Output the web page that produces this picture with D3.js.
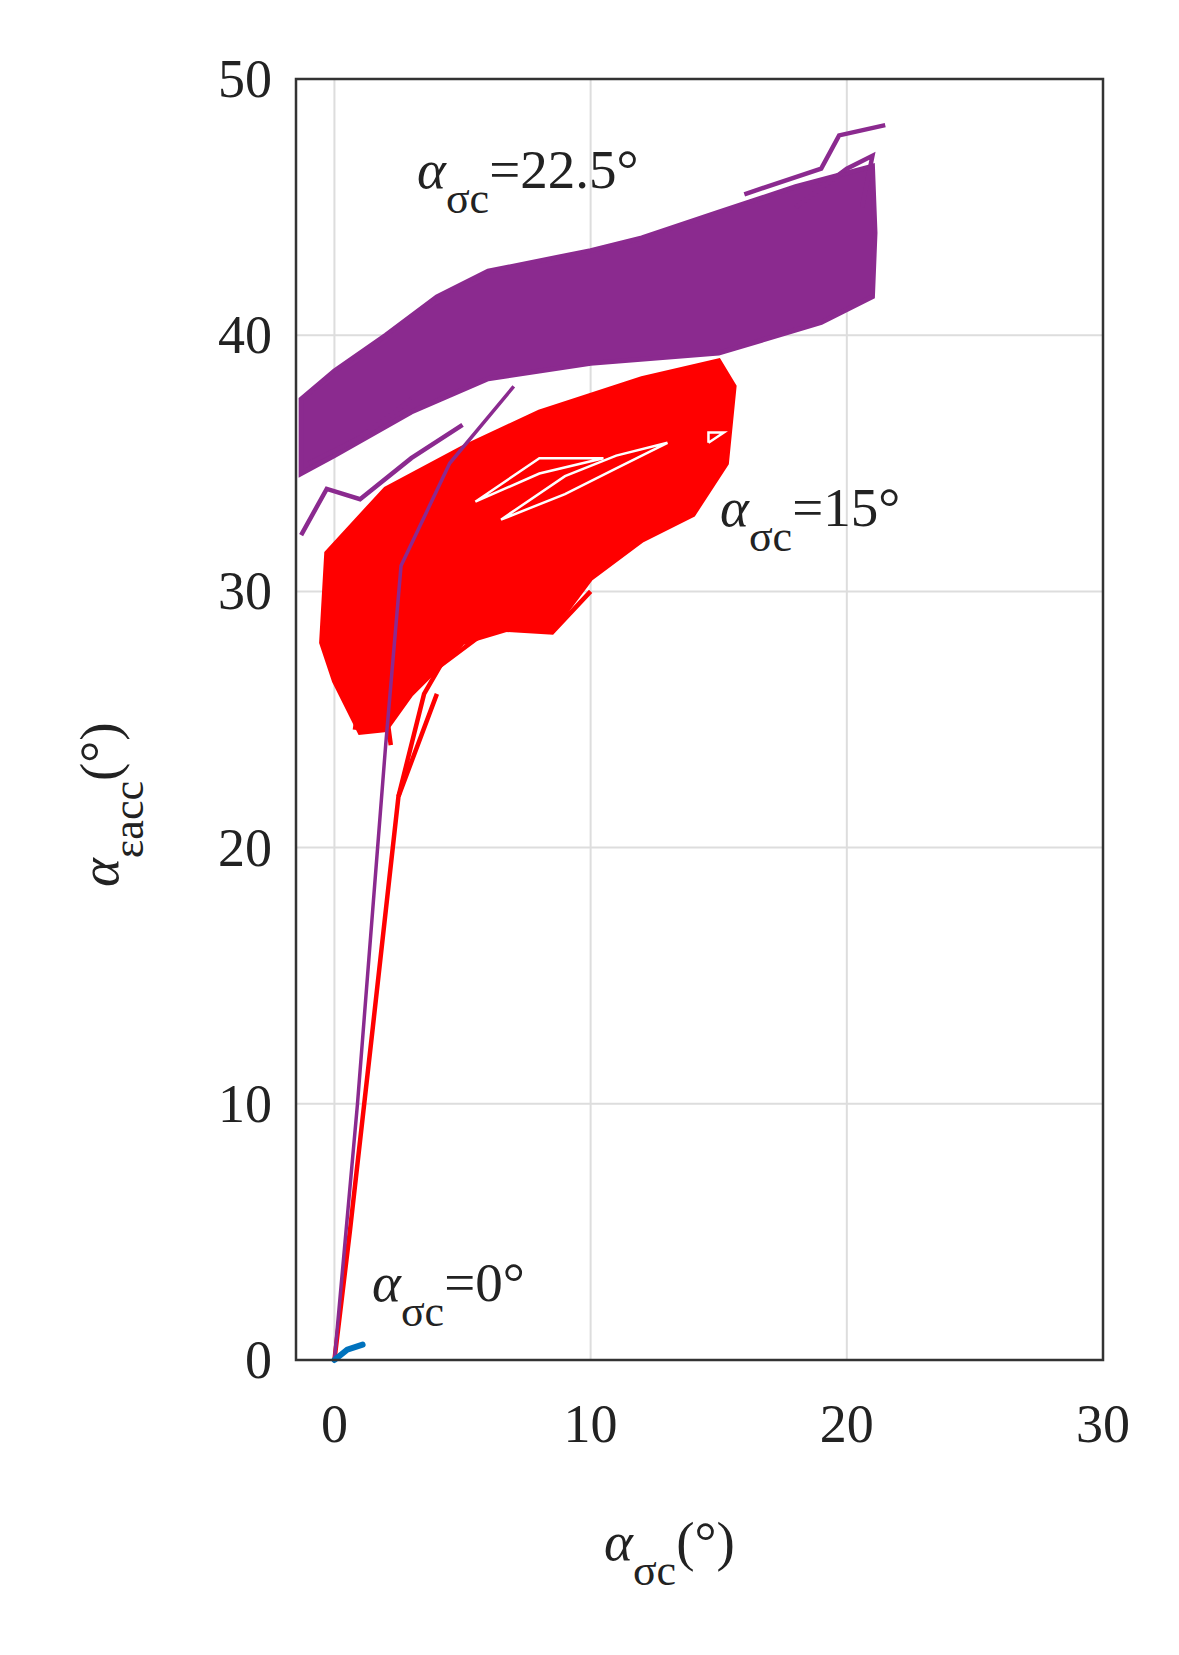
<!DOCTYPE html>
<html><head><meta charset="utf-8">
<script src="https://cdn.jsdelivr.net/npm/d3@7"></script>
<style>body{margin:0;background:#fff}text{font-family:"Liberation Serif","DejaVu Serif",serif;fill:#222}</style>
</head><body><div id="chart"></div>
<script>
const xTicks = [0, 10, 20, 30];
const yTicks = [0, 10, 20, 30, 40, 50];

// purple (22.5°) band outline
const purpleBand = [[-1.3,37.5],[0,38.6],[2,40],[4,41.5],[6,42.5],[10,43.3],[12,43.8],[15,44.8],[18,45.8],[21,46.6],[21.1,44],[21,41.5],[19,40.5],[15,39.3],[10,38.9],[6,38.3],[3,37],[0,35.3],[-1.3,34.6]];
const purpleLoad = [[0,0],[0.9,10],[2,24],[2.6,31],[4.5,35],[7,38]];
const purpleExtra = [[[-1.3,32.2],[-0.3,34],[1,33.6],[3,35.2],[5,36.5]],[[16,45.5],[19,46.5],[19.7,47.8],[21.5,48.2]],[[18,45],[20,46.5],[21,47],[20.6,45]],[[-1,35],[1,36],[3,37.5]]];
// red (15°) band outline
const redBand = [[-0.5,28],[-0.3,31.5],[2,34],[5,35.6],[8,37],[12,38.3],[15,39],[15.6,38],[15.3,35],[14,33],[12,32],[10,30.5],[8.5,28.5],[7,28.6],[5,28],[3,26],[2,24.6],[1,24.5],[0,26.5]];
const redLoad = [[0,0],[0.6,5],[1.5,13],[2.5,22],[4,26]];
const redExtra = [[[2.5,22],[3.5,26],[5,28.6],[8.5,28.4],[10,30]],[[0.5,26],[2,26.3],[4,27],[6,28.5]],[[0.8,24.6],[1,26],[2,25.5],[2.2,24]]];
const whiteLoops = [[[6.5,32.8],[9,33.8],[11,34.8],[13,35.8],[11,35.3],[9,34.5],[6.5,32.8]],[[5.5,33.5],[8,34.6],[10.5,35.2],[8,35.2],[5.5,33.5]],[[14.6,35.8],[15.2,36.2],[14.6,36.2],[14.6,35.8]]];
const blueLine = [[0,0],[0.5,0.4],[1.1,0.6]];

const W = 1179, H = 1655;
const m = {l: 296, r: 1103, t: 79, b: 1360};
const svg = d3.select('#chart').append('svg').attr('width', W).attr('height', H);
const x = d3.scaleLinear().domain([-1.5, 30]).range([m.l, m.r]);
const y = d3.scaleLinear().domain([0, 50]).range([m.b, m.t]);

svg.append('g').selectAll('line').data(xTicks).join('line')
    .attr('x1', d => x(d)).attr('x2', d => x(d)).attr('y1', m.t).attr('y2', m.b)
    .attr('stroke', '#ddd').attr('stroke-width', 2);
svg.append('g').selectAll('line').data(yTicks).join('line')
    .attr('y1', d => y(d)).attr('y2', d => y(d)).attr('x1', m.l).attr('x2', m.r)
    .attr('stroke', '#ddd').attr('stroke-width', 2);

const line = d3.line().x(d => x(d[0])).y(d => y(d[1]));

svg.append('path').attr('d', line(purpleBand) + 'Z').attr('fill', '#8b2a8f').attr('stroke', '#8b2a8f').attr('stroke-width', 5);
purpleExtra.forEach(p => svg.append('path').attr('d', line(p)).attr('fill', 'none').attr('stroke', '#8b2a8f').attr('stroke-width', 4.5));
redExtra.forEach(p => svg.append('path').attr('d', line(p)).attr('fill', 'none').attr('stroke', '#f00').attr('stroke-width', 4.5));
svg.append('path').attr('d', line(redBand) + 'Z').attr('fill', '#f00').attr('stroke', '#f00').attr('stroke-width', 5);
svg.append('path').attr('d', line(redLoad)).attr('fill', 'none').attr('stroke', '#f00').attr('stroke-width', 4.5);
whiteLoops.forEach(p => svg.append('path').attr('d', line(p)).attr('fill', 'none').attr('stroke', '#fff').attr('stroke-width', 2.5));
svg.append('path').attr('d', line(purpleLoad)).attr('fill', 'none').attr('stroke', '#8b2a8f').attr('stroke-width', 3.5);
svg.append('path').attr('d', line(blueLine)).attr('fill', 'none').attr('stroke', '#0072bd').attr('stroke-width', 6).attr('stroke-linecap', 'round');

svg.append('rect').attr('x', m.l).attr('y', m.t).attr('width', m.r - m.l).attr('height', m.b - m.t)
    .attr('fill', 'none').attr('stroke', '#333').attr('stroke-width', 2.5);

svg.append('g').selectAll('text').data(xTicks).join('text')
    .attr('x', d => x(d)).attr('y', m.b + 82).attr('text-anchor', 'middle')
    .attr('font-size', 54).text(d => d);
svg.append('g').selectAll('text').data(yTicks).join('text')
    .attr('x', m.l - 24).attr('y', d => y(d) + 18).attr('text-anchor', 'end')
    .attr('font-size', 54).text(d => d);

function alphaLabel(g, sub, rest, size) {
    const t = g.append('text').attr('font-size', size);
    t.append('tspan').attr('font-style', 'italic').text('α');
    t.append('tspan').attr('dy', size * 0.45).attr('font-size', size * 0.8).text(sub);
    t.append('tspan').attr('dy', -size * 0.45).text(rest);
    return t;
}
alphaLabel(svg, 'σc', '=22.5°', 55).attr('x', 417).attr('y', 188);
alphaLabel(svg, 'σc', '=15°', 55).attr('x', 720).attr('y', 526);
alphaLabel(svg, 'σc', '=0°', 55).attr('x', 372).attr('y', 1301);
alphaLabel(svg, 'σc', '(°)', 55).attr('x', 604).attr('y', 1560);
alphaLabel(svg.append('g').attr('transform', 'translate(118,887) rotate(-90)'), 'εacc', '(°)', 55);
</script></body></html>
